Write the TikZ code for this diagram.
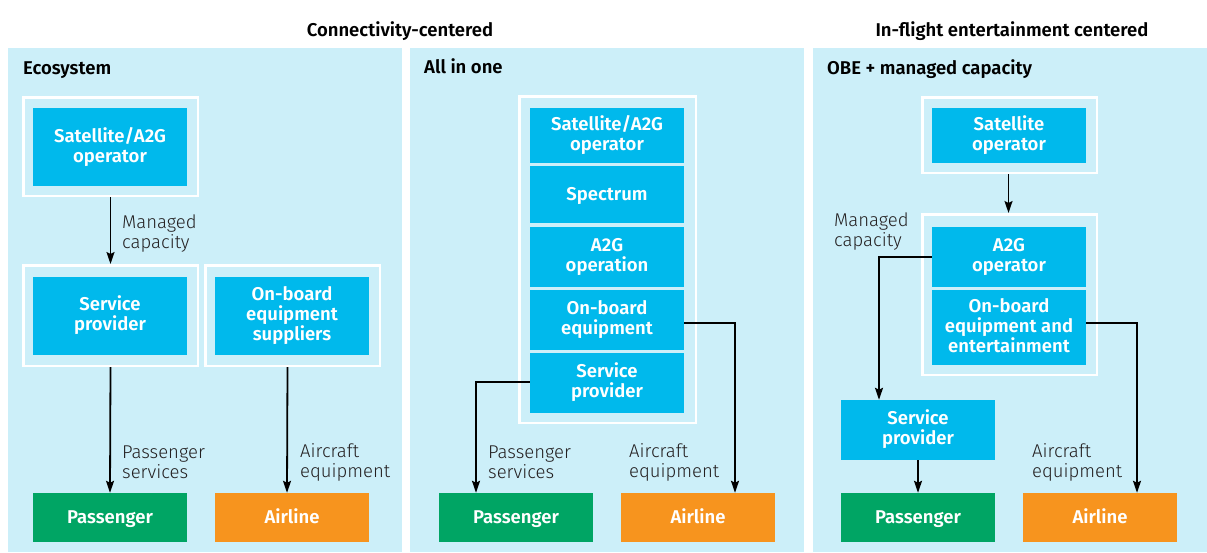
\documentclass[tikz,border=0pt]{standalone}
\usepackage{fontspec}
\setmainfont{Fira Sans}
\newfontfamily\medfont{Fira Sans SemiBold}
\newfontfamily\lightfont{Fira Sans Light}
\usetikzlibrary{arrows.meta}
\definecolor{panelbg}{HTML}{CCEFF9}
\definecolor{boxblue}{HTML}{00B9EC}
\definecolor{pgreen}{HTML}{00A564}
\definecolor{aorange}{HTML}{F7941E}
\definecolor{labelgray}{HTML}{231F20}
\tikzset{
  frame/.style={draw=white, line width=2.5pt, inner sep=0pt},
  struts/.style={execute at begin node={\rule{0pt}{16.5pt}}, execute at end node={\rule[-5pt]{0pt}{5pt}}},
  bx/.style={fill=boxblue, text=white, font=\medfont\fontsize{18.5}{20}\selectfont, align=center, inner sep=0pt, minimum width=154pt, struts},
  pbox/.style={fill=pgreen, text=white, font=\medfont\fontsize{18.5}{20}\selectfont, inner sep=0pt, minimum width=154pt, minimum height=49pt, struts},
  abox/.style={fill=aorange, text=white, font=\medfont\fontsize{18.5}{20}\selectfont, inner sep=0pt, minimum width=154pt, minimum height=49pt, struts},
  lbl/.style={font=\lightfont\fontsize{18.5}{20}\selectfont, text=labelgray, align=left, inner sep=0pt, anchor=west},
  heading/.style={font=\medfont\fontsize{18.5}{20}\selectfont, text=black, inner sep=0pt, anchor=base},
  ptitle/.style={font=\medfont\fontsize{18.5}{20}\selectfont, text=black, inner sep=0pt, anchor=base west},
  arr/.style={-{Stealth[length=12pt,width=8pt,inset=2pt]}, line width=1.8pt, black},
}
\begin{document}
\begin{tikzpicture}[x=1pt,y=-1pt]
\useasboundingbox (0,0) rectangle (1207,552);
% panels
\fill[panelbg] (8,48) rectangle (402,552);
\fill[panelbg] (410,48) rectangle (804,552);
\fill[panelbg] (813,48) rectangle (1207,552);
% headings
\node[heading] (h1) at (400,36) {Connectivity-centered};
\node[heading] (h2) at (1012,36) {In-flight entertainment centered};
\node[ptitle] (t1) at (23,74) {Ecosystem};
\node[ptitle] (t2) at (424,73) {All in one};
\node[ptitle] (t3) at (827,74) {OBE + managed capacity};

% ---------- Panel 1 ----------
\node[frame, minimum width=174.5pt, minimum height=98.5pt] (fsat1) at (110.5,146.5) {};
\node[frame, minimum width=174.5pt, minimum height=100.5pt] (fsp1) at (110.5,315.5) {};
\node[frame, minimum width=174.5pt, minimum height=100.5pt] (fobe1) at (292.5,315.5) {};
\node[bx, minimum height=78pt] (sat1) at (110,147) {Satellite/A2G\\operator};
\node[bx, minimum height=78pt] (sp1) at (110,316) {Service\\provider};
\node[bx, minimum height=78pt] (obe1) at (292,316) {On-board\\equipment\\suppliers};
\node[pbox] (pass1) at (110,517.5) {Passenger};
\node[abox] (air1) at (292,517.5) {Airline};
\draw[arr] (fsat1.south) -- (fsp1.north);
\draw[arr] (fsp1.south) -- (pass1.north);
\draw[arr] ([xshift=-5pt]fobe1.south) -- ([xshift=-5pt]air1.north);
\node[lbl] (l1a) at (122,234) {Managed\\capacity};
\node[lbl] (l1b) at (122,462) {Passenger\\services};
\node[lbl] (l1c) at (300,462) {Aircraft\\equipment};

% ---------- Panel 2 ----------
\node[frame, minimum width=176.5pt, minimum height=326.5pt] (f2) at (607.5,259.5) {};
\node[bx, minimum height=55pt] (sat2) at (607,135.5) {Satellite/A2G\\operator};
\node[bx, minimum height=57pt] (spec2) at (607,194.5) {Spectrum};
\node[bx, minimum height=60pt] (a2g2) at (607,257) {A2G\\operation};
\node[bx, minimum height=60pt] (obe2) at (607,320) {On-board\\equipment};
\node[bx, minimum height=60pt] (sp2) at (607,383) {Service\\provider};
\node[pbox] (pass2) at (516,517.5) {Passenger};
\node[abox] (air2) at (698,517.5) {Airline};
\draw[arr] ([yshift=1pt]sp2.west) -| ([xshift=-40pt]pass2.north);
\draw[arr] ([yshift=-3pt]obe2.east) -| ([xshift=37pt]air2.north);
\node[lbl] (l2b) at (488,462) {Passenger\\services};
\node[lbl] (l2c) at (629,462) {Aircraft\\equipment};

% ---------- Panel 3 ----------
\node[frame, minimum width=174.5pt, minimum height=75.5pt] (fsat3) at (1009.5,135) {};
\node[frame, minimum width=174.5pt, minimum height=160.5pt] (f3b) at (1009.5,294.5) {};
\node[bx, minimum height=55pt] (sat3) at (1009,135.5) {Satellite\\operator};
\node[bx, minimum height=60pt] (a2g3) at (1009,257) {A2G\\operator};
\node[bx, minimum height=75pt] (obe3) at (1009,327.5) {On-board\\equipment and\\entertainment};
\node[bx, minimum height=60pt] (sp3) at (918,430) {Service\\provider};
\node[pbox] (pass3) at (918,517.5) {Passenger};
\node[abox] (air3) at (1100,517.5) {Airline};
\draw[arr] ([xshift=-1pt]fsat3.south) -- ([xshift=-1pt]f3b.north);
\draw[arr] (a2g3.west) -| ([xshift=-39pt]sp3.north);
\draw[arr] (sp3.south) -- (pass3.north);
\draw[arr] ([yshift=4.5pt]obe3.east) -| ([xshift=37pt]air3.north);
\node[lbl] (l3a) at (834,232) {Managed\\capacity};
\node[lbl] (l3c) at (1032,462) {Aircraft\\equipment};
\end{tikzpicture}
\end{document}
